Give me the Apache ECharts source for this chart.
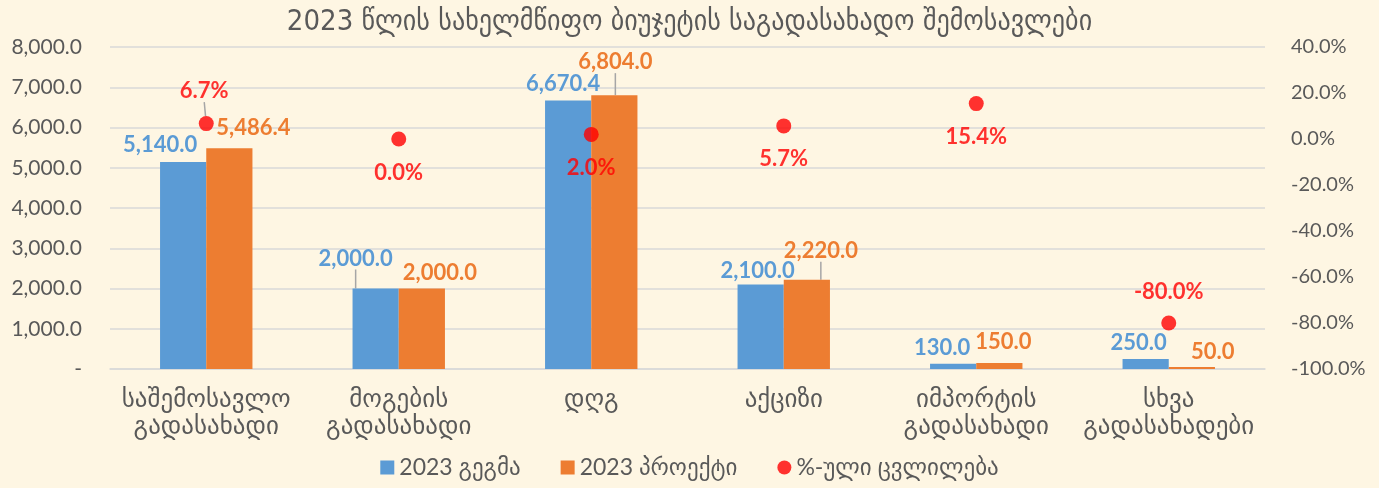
<!DOCTYPE html>
<html>
<head>
<meta charset="utf-8">
<title>2023 წლის სახელმწიფო ბიუჯეტის საგადასახადო შემოსავლები</title>
<script src="https://cdn.jsdelivr.net/npm/echarts@6/dist/echarts.min.js"></script>
<style>
  html, body { margin: 0; padding: 0; background: #fef6e3; }
  #chart { width: 1379px; height: 488px; }
</style>
</head>
<body>
<div id="chart"></div>
<script>
// data
var categories = ['საშემოსავლო\nგადასახადი', 'მოგების\nგადასახადი', 'დღგ', 'აქციზი', 'იმპორტის\nგადასახადი', 'სხვა\nგადასახადები'];
var plan2023 = [5140.0, 2000.0, 6670.4, 2100.0, 130.0, 250.0];
var project2023 = [5486.4, 2000.0, 6804.0, 2220.0, 150.0, 50.0];
var changePct = [6.7, 0.0, 2.0, 5.7, 15.4, -80.0];

// label nudges and leader lines (styling only)
var planOffset = [[-23, -1], [-20, -14], [-5, -1], [-3, 2], [-11, 0], [-7, 0]];
var projectOffset = [[24, -4], [18, 0], [1, -17], [14, -13], [4, -5], [21, 1]];
var planLeader = [false, true, false, false, false, false];
var projectLeader = [false, false, true, true, false, false];
var pctLeader = [true, false, false, false, false, false];
var pctPos = ['top', 'bottom', 'bottom', 'bottom', 'bottom', 'top'];

var FONT = 'Lato, "DejaVu Sans", sans-serif';
var GREY = '#595959';
var leaderStyle = { lineStyle: { color: '#a6a6a6', width: 1.5 } };

function fmtNum(v) {
  return v.toLocaleString('en-US', {minimumFractionDigits: 1, maximumFractionDigits: 1});
}

var chart = echarts.init(document.getElementById('chart'));

var option = {
  backgroundColor: '#fef6e3',
  textStyle: { fontFamily: FONT },
  title: {
    text: '2023 წლის სახელმწიფო ბიუჯეტის საგადასახადო შემოსავლები',
    left: 'center',
    top: 3,
    textStyle: { fontFamily: '"DejaVu Sans Condensed", "DejaVu Sans", sans-serif', fontSize: 29, fontWeight: 'normal', color: GREY }
  },
  legend: {
    bottom: 4,
    left: 'center',
    itemGap: 40,
    itemWidth: 14,
    itemHeight: 14,
    textStyle: { fontSize: 23, color: GREY, fontFamily: FONT },
    data: [
      { name: '2023 გეგმა', icon: 'rect' },
      { name: '2023 პროექტი', icon: 'rect' },
      { name: '%-ული ცვლილება', icon: 'circle' }
    ]
  },
  grid: { left: 110, right: 114, top: 47, bottom: 119 },
  xAxis: {
    type: 'category',
    data: categories,
    axisTick: { show: false },
    axisLine: { lineStyle: { color: '#d9d9d9', width: 1.5 } },
    axisLabel: { color: GREY, fontSize: 25, lineHeight: 27, margin: 16, interval: 0 }
  },
  yAxis: [{
    type: 'value',
    min: 0, max: 8000, interval: 1000,
    splitLine: { lineStyle: { color: '#d9d9d9', width: 1.5 } },
    axisLabel: {
      color: GREY, fontSize: 21, margin: 28,
      formatter: function (v) { return v === 0 ? '-' : fmtNum(v); }
    }
  }, {
    type: 'value',
    min: -100, max: 40, interval: 20,
    splitLine: { show: false },
    axisLabel: {
      color: GREY, fontSize: 20, margin: 26,
      formatter: function (v) { return v.toFixed(1) + '%'; }
    }
  }],
  series: [{
    name: '2023 გეგმა',
    type: 'bar',
    barGap: '0%',
    barCategoryGap: '52%',
    itemStyle: { color: '#5b9bd5' },
    data: plan2023.map(function (v, i) {
      return { value: v, labelLine: { show: planLeader[i] } };
    }),
    labelLayout: function (p) {
      return { dx: planOffset[p.dataIndex][0], dy: planOffset[p.dataIndex][1] };
    },
    labelLine: leaderStyle,
    label: {
      show: true, position: 'top', color: '#5b9bd5', fontWeight: 'bold', fontSize: 22,
      formatter: function (p) { return fmtNum(p.value); }
    }
  }, {
    name: '2023 პროექტი',
    type: 'bar',
    itemStyle: { color: '#ed7d31' },
    data: project2023.map(function (v, i) {
      return { value: v, labelLine: { show: projectLeader[i] } };
    }),
    labelLayout: function (p) {
      return { dx: projectOffset[p.dataIndex][0], dy: projectOffset[p.dataIndex][1] };
    },
    labelLine: leaderStyle,
    label: {
      show: true, position: 'top', color: '#ed7d31', fontWeight: 'bold', fontSize: 22,
      formatter: function (p) { return fmtNum(p.value); }
    }
  }, {
    name: '%-ული ცვლილება',
    type: 'scatter',
    yAxisIndex: 1,
    symbolSize: 15,
    itemStyle: { color: '#ff0000' },
    data: changePct.map(function (v, i) {
      return {
        value: v,
        labelLine: { show: pctLeader[i] },
        label: { position: pctPos[i], distance: pctPos[i] === 'top' ? 13 : 15 }
      };
    }),
    labelLayout: function (p) {
      return pctLeader[p.dataIndex] ? { dx: -2, dy: -1 } : {};
    },
    labelLine: leaderStyle,
    label: {
      show: true, color: '#ff0000', fontWeight: 'bold', fontSize: 22,
      formatter: function (p) { return p.value.toFixed(1) + '%'; }
    }
  }]
};

chart.setOption(option);
window.addEventListener('resize', function () { chart.resize(); });
</script>
</body>
</html>
